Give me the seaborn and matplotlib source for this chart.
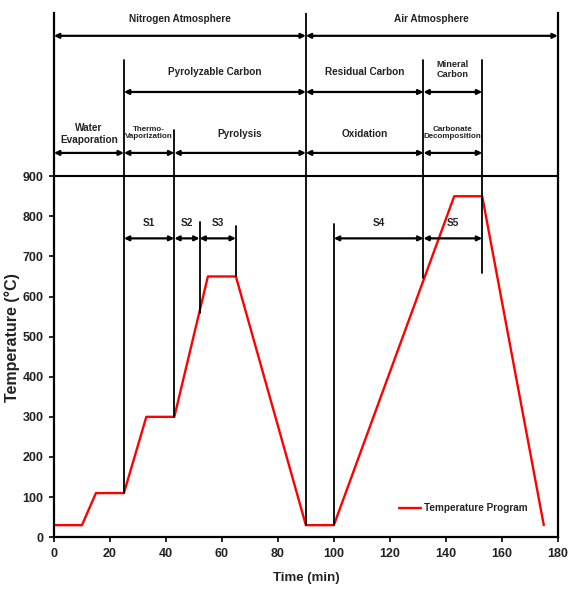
import matplotlib
matplotlib.use("Agg")
import matplotlib.pyplot as plt
import seaborn as sns
import pandas as pd

# temperature program (time in min, temperature in °C)
time_min = [0, 10, 15, 25, 33, 43, 55, 65, 90, 100, 143, 153, 175]
temp_c = [30, 30, 110, 110, 300, 300, 650, 650, 30, 30, 850, 850, 30]

# stage annotations: (start, end, label) for each row of arrows
atmosphere = [(0, 90, "Nitrogen Atmosphere"), (90, 180, "Air Atmosphere")]
carbon = [(25, 90, "Pyrolyzable Carbon"), (90, 132, "Residual Carbon"), (132, 153, "Mineral\nCarbon")]
process = [(0, 25, "Water\nEvaporation"), (25, 43, "Thermo-\nVaporization"), (43, 90, "Pyrolysis"),
           (90, 132, "Oxidation"), (132, 153, "Carbonate\nDecomposition")]
steps = [(25, 43, "S1"), (43, 52, "S2"), (52, 65, "S3"), (100, 132, "S4"), (132, 153, "S5")]

# vertical divider lines: (x, y_top, y_bottom)
dividers = [(25, 1190, 110), (43, 1015, 300), (52, 785, 558), (65, 775, 650),
            (90, 1307, 30), (100, 780, 30), (132, 1190, 645), (153, 1190, 658)]

sns.set_style("ticks")
plt.rcParams['font.family'] = ['Liberation Sans', 'DejaVu Sans']
plt.rcParams['font.weight'] = 'bold'

fig = plt.figure(figsize=(5.68, 5.89), dpi=100)
ax = fig.add_axes([0.095, 0.088, 0.887, 0.89])

df = pd.DataFrame({"Time": time_min, "Temp": temp_c})
sns.lineplot(data=df, x="Time", y="Temp", color="red", lw=1.7, ax=ax,
             label="Temperature Program", sort=False)

ax.set_xlim(0, 180)
ax.set_ylim(0, 1307)
ax.set_xticks(range(0, 181, 20))
ax.set_yticks(range(0, 901, 100))
ax.tick_params(labelsize=9, width=1.2, length=3.5, colors='black', pad=4)
for lbl in ax.get_xticklabels() + ax.get_yticklabels():
    lbl.set_fontweight('bold')
    lbl.set_color('#222222')

ax.spines['top'].set_visible(False)
for s in ['left', 'right', 'bottom']:
    ax.spines[s].set_linewidth(1.6)
    ax.spines[s].set_color('black')

ax.axhline(900, color='black', lw=1.5)
for x, y1, y0 in dividers:
    ax.plot([x, x], [y0, y1], color='black', lw=1.3)


def arrow_row(items, y, label_y, size):
    for a, b, text in items:
        ax.annotate('', xy=(a, y), xytext=(b, y),
                    arrowprops=dict(arrowstyle='<|-|>', color='black', lw=1.6,
                                    mutation_scale=7, shrinkA=0, shrinkB=0))
        ax.text((a + b) / 2, label_y, text, ha='center', va='center',
                fontsize=size, fontweight='bold', linespacing=1.15, color='#222222')


arrow_row(atmosphere, 1250, 1293, 7.2)
arrow_row(carbon[:2], 1110, 1160, 7.2)
arrow_row(carbon[2:], 1110, 1165, 6.6)
arrow_row(process[:1] + process[2:4], 958, 1005, 7.2)
arrow_row([process[1], process[4]], 958, 1008, 5.8)
arrow_row(steps, 745, 783, 7.2)

ax.set_xlabel("Time (min)", fontsize=9.5, fontweight='bold', labelpad=9, color='#222222')
ax.set_ylabel("Temperature (°C)", fontsize=11.5, fontweight='bold', color='#222222')
ax.yaxis.set_label_coords(-0.068, 0.38)

ax.legend(loc='center left', bbox_to_anchor=(0.675, 0.055), frameon=False,
          fontsize=7.2, handlelength=2.2, borderpad=0, handletextpad=0.3)

fig.savefig("out.png", dpi=100)
